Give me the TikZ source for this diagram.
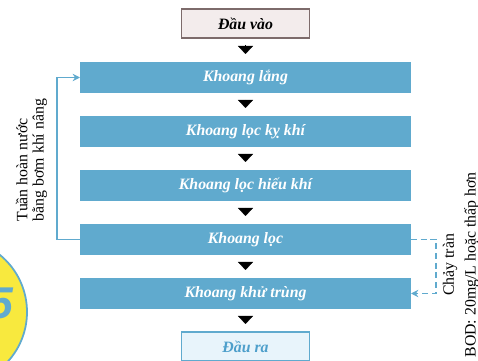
\documentclass[tikz,border=0pt]{standalone}
\usepackage{fontspec}
\setmainfont{Liberation Serif}
\newfontfamily\digitfont{Liberation Sans}
\usetikzlibrary{positioning,arrows.meta}

\definecolor{khoangblue}{RGB}{96,170,206}
\definecolor{vaofill}{RGB}{243,236,236}
\definecolor{vaoline}{RGB}{125,107,107}
\definecolor{rafill}{RGB}{232,244,251}
\definecolor{ratext}{RGB}{78,159,203}
\definecolor{badgeyellow}{RGB}{248,233,62}

\begin{document}
\begin{tikzpicture}[
	khoang/.style={rectangle, fill=khoangblue, text=white, minimum width=9.93cm, minimum height=0.93cm, outer sep=0pt, font=\fontsize{13.5}{15}\selectfont\bfseries\itshape},
	dau/.style={rectangle, line width=0.9pt, minimum width=3.84cm, minimum height=0.87cm, outer sep=0pt, font=\fontsize{13.5}{15}\selectfont\bfseries\itshape},
	flow/.style={-{Triangle[width=4.5mm,length=2.4mm]}, line width=0.1pt, shorten <=2.1mm, shorten >=2.4mm},
	loop/.style={khoangblue, line width=1.5pt, -{Stealth[length=2.2mm,width=2.2mm]}},
	note/.style={rotate=90, font=\fontsize{13.5}{14}\selectfont}
]
\useasboundingbox (0,0) rectangle (14.34,-10.83);

% badge in the corner
\draw[khoangblue, line width=1.5pt, fill=badgeyellow] (-1.4,-9.36) circle (2.21);
\node[anchor=east, inner sep=0pt, text=khoangblue, font=\digitfont\fontsize{38}{38}\selectfont\bfseries\itshape] (badge) at (0.4,-9.1) {5};

\node[dau, draw=vaoline, fill=vaofill] (vao) at (7.365,-0.705) {Đầu vào};
\node[khoang] (lang) [below=0.72cm of vao] {Khoang lắng};
\node[khoang] (kykhi) [below=0.69cm of lang] {Khoang lọc kỵ khí};
\node[khoang] (hieukhi) [below=0.69cm of kykhi] {Khoang lọc hiếu khí};
\node[khoang] (loc) [below=0.69cm of hieukhi] {Khoang lọc};
\node[khoang] (khutrung) [below=0.69cm of loc] {Khoang khử trùng};
\node[dau, draw=khoangblue, fill=rafill, text=ratext] (ra) [below=0.69cm of khutrung] {Đầu ra};

% main flow
\draw[flow] (vao) -- (lang);
\draw[flow] (lang) -- (kykhi);
\draw[flow] (kykhi) -- (hieukhi);
\draw[flow] (hieukhi) -- (loc);
\draw[flow] (loc) -- (khutrung);
\draw[flow] (khutrung) -- (ra);

% recirculation and overflow
\draw[loop] (loc.west) -- ++(-0.69,0) |- (lang.west);
\draw[loop, dash pattern=on 0.18cm off 0.11cm] (loc.east) -- ++(0.75,0) |- (khutrung.east);

\node[note, align=left] (tuanhoan) at (0.945,-4.8) {Tuần hoàn nước\\bằng bơm khí nâng};
\node[note, align=center, font=\fontsize{13.5}{18.5}\selectfont] (chaytran) at (13.83,-7.95) {Chảy tràn\\BOD: 20mg/L hoặc thấp hơn};
\end{tikzpicture}
\end{document}
